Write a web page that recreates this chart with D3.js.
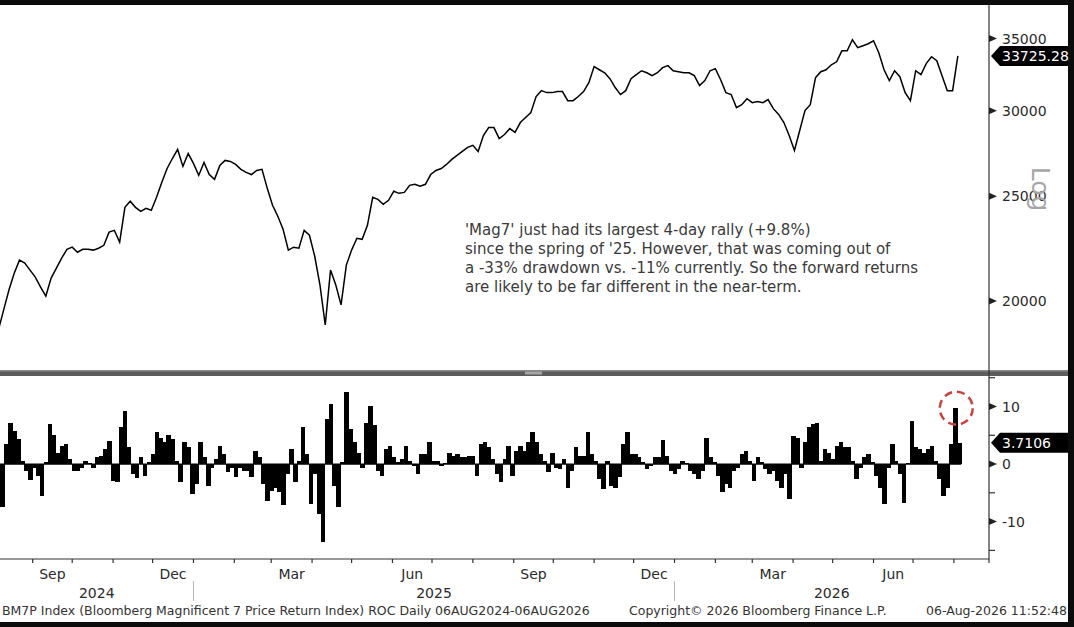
<!DOCTYPE html>
<html>
<head>
<meta charset="utf-8">
<script src="https://cdn.jsdelivr.net/npm/d3@7"></script>
<style>
html, body { margin: 0; padding: 0; background: #0b0b0b; }
svg { display: block; }
text { font-family: "DejaVu Sans", Verdana, sans-serif; }
</style>
</head>
<body>
<svg id="chart" width="1074" height="627"></svg>
<script>
// BM7P close, sampled every 4 days from the start date (last one is the latest close)
var closeStart = "2024-08-06";
var closeStepDays = 4;
var closeValues = [
  18800, 19620, 20470, 21220, 21820, 21680, 21360, 21040, 20600, 20210,
  21000, 21450, 21910, 22330, 22430, 22190, 22330, 22330, 22290, 22380,
  22520, 23160, 23250, 22670, 24420, 24740, 24420, 24210, 24370, 24270,
  24950, 25760, 26530, 27100, 27630, 26650, 27390, 26820, 26140, 26870,
  26190, 25920, 26700, 26990, 26930, 26760, 26480, 26310, 26190, 26420,
  26480, 25430, 24530, 23960, 23300, 22290, 22430, 22380, 23250, 23010,
  22000, 20690, 19000, 21360, 20690, 19830, 21590, 22290, 22860, 22810,
  23500, 24950, 24840, 24580, 24790, 25270, 25160, 25210, 25590, 25650,
  25540, 25650, 26190, 26420, 26530, 26760, 27050, 27280, 27510, 27750,
  27870, 27510, 28460, 28950, 28950, 28280, 28520, 28890, 28650, 29260,
  29580, 29890, 30930, 31320, 31190, 31190, 31260, 31260, 30660, 30660,
  30930, 31260, 31860, 32970, 32750, 32540, 32130, 31530, 31060, 31320,
  32130, 32410, 32680, 32540, 32340, 32540, 32900, 33040, 32680, 32610,
  32540, 32540, 32340, 31660, 32000, 32680, 32830, 32060, 31190, 31060,
  30210, 30400, 30790, 30530, 30600, 30530, 30730, 30140, 29770, 29260,
  28460, 27570, 28770, 30020, 30400, 32200, 32610, 32750, 33100, 33310,
  34100, 34100, 34910, 34330, 34470, 34620, 34840, 33960, 32750, 32000,
  32680, 32270, 31190, 30660, 32680, 32410, 33180, 33670, 33390, 32340,
  31320, 31320, 33725.28
];

// 4-day rate of change (%), sampled every 3 days
var rocStart = "2024-08-06";
var rocStepDays = 3;
var rocValues = [
  -7.5, -7.5, 3.5, 7.2, 5.8, 4.3, 0.6, -1.2, -2.8, -0.6,
  -2.0, -5.5, 0.3, 7.0, 5.0, 2.0, 3.2, 3.5, 0.9, -1.2,
  -1.2, -0.6, 0.6, 0.2, -0.6, 1.2, 1.4, 2.6, 4.0, -2.9,
  -3.2, 6.4, 9.3, 3.0, -1.7, -2.5, 1.2, -2.0, 0.3, 1.7,
  5.5, 4.6, 3.8, 5.0, 4.3, 0.5, -3.2, 3.8, 2.9, -5.2,
  -3.5, 3.8, 1.2, -3.8, -0.6, 0.9, 3.2, 1.7, -1.4, -0.6,
  -2.3, -0.6, -1.2, -1.2, -2.3, 2.3, 1.2, -3.5, -6.4, -4.6,
  -4.1, -4.9, -7.2, -1.7, 2.6, -3.2, 0.6, 6.4, 1.7, -7.0,
  -1.7, -8.7, -13.6, 7.8, 10.4, -3.8, -7.5, 0.3, 12.5, 6.1,
  3.8, 2.0, -0.6, 7.2, 10.1, 6.7, -1.2, -2.0, 2.6, 3.2,
  1.2, 0.3, 0.9, 3.2, 0.6, -0.3, -1.7, 1.7, 1.7, 3.8,
  0.6, 0.6, -0.3, 0.2, 2.0, 1.4, 1.7, 1.2, 1.2, 1.4,
  1.4, -2.0, 3.5, 3.8, 2.9, 0.9, -1.7, -3.2, 0.9, 3.2,
  -2.0, 2.3, 3.2, 2.3, 3.8, 5.5, 3.8, 1.7, 0.6, -1.4,
  2.0, -0.6, -0.9, 0.9, -4.1, -1.2, 2.9, 1.4, 1.4, 5.5,
  1.7, 0.6, -2.6, -4.3, 0.6, -3.8, -4.1, -2.3, 3.5, 5.5,
  1.7, 1.7, 1.2, 0.3, -0.9, -0.3, 1.2, 1.2, 4.1, 1.4,
  -1.2, -1.7, -0.9, 0.6, 0.2, -1.2, -1.7, -2.6, -1.2, 4.6,
  1.2, 0.3, -2.0, -4.9, -3.5, -4.1, -1.2, -0.6, 1.7, 2.3,
  0.6, -2.9, 1.2, 0.3, -0.9, -1.7, -1.2, -2.9, -4.1, -1.7,
  -6.1, 4.9, 4.6, -0.6, 3.8, 6.4, 7.0, 7.2, 0.6, 2.6,
  2.0, 0.9, 3.2, 3.8, 2.9, 2.9, 0.6, -2.6, -0.6, 1.2,
  1.7, 0.3, -2.0, -4.1, -7.0, -0.6, 3.5, 0.6, -1.7, -6.7,
  0.2, 7.5, 2.9, 2.6, 2.0, 2.6, 3.2, 0.6, -2.6, -5.5,
  -4.1, 3.5, 9.8, 3.7106
];

var priceTicks = [20000, 25000, 30000, 35000];
var rocTicks = [-10, 0, 10];
var rocMinorTicks = [-15, -5, 5, 15];
var monthNames = {8: "Sep", 11: "Dec", 2: "Mar", 5: "Jun"};
var years = [2024, 2025, 2026];
var noteLines = [
  "'Mag7' just had its largest 4-day rally (+9.8%)",
  "since the spring of '25. However, that was coming out of",
  "a -33% drawdown vs. -11% currently. So the forward returns",
  "are likely to be far different in the near-term."
];
var footerLeft = "BM7P Index (Bloomberg Magnificent 7 Price Return Index) ROC Daily 06AUG2024-06AUG2026";
var footerMid = "Copyright\u00a9 2026 Bloomberg Finance L.P.";
var footerRight = "06-Aug-2026 11:52:48";

var parse = d3.timeParse("%Y-%m-%d");
var closeData = closeValues.map(function(v, i){
  return {date: d3.timeDay.offset(parse(closeStart), i * closeStepDays), value: v};
});
var rocData = rocValues.map(function(v, i){
  return {date: d3.timeDay.offset(parse(rocStart), i * rocStepDays), value: v};
});

var plotRight = 989, topY = 5, sepY = 370, lowTop = 376, lowBottom = 559;

var svg = d3.select("#chart");

// frame
svg.append("rect").attr("width", 1074).attr("height", 627).attr("fill", "#0b0b0b");
svg.append("rect").attr("x", 0).attr("y", topY).attr("width", 1068).attr("height", 617).attr("fill", "#ffffff");

var x = d3.scaleTime()
  .domain([new Date(2024, 7, 6), new Date(2026, 7, 6)])
  .range([-1.6, 960.5]);
var yPrice = d3.scaleLog().domain([17260, 37600]).range([sepY, topY]);
var yRoc = d3.scaleLinear().domain([-16.5, 15.3]).range([lowBottom, lowTop]);

svg.append("clipPath").attr("id", "clipTop")
  .append("rect").attr("x", 0).attr("y", topY).attr("width", plotRight).attr("height", sepY - topY);
svg.append("clipPath").attr("id", "clipLow")
  .append("rect").attr("x", 0).attr("y", lowTop).attr("width", plotRight).attr("height", lowBottom - lowTop);

// price line
var line = d3.line()
  .x(function(d){ return x(d.date); })
  .y(function(d){ return yPrice(d.value); });
svg.append("path").datum(closeData)
  .attr("clip-path", "url(#clipTop)")
  .attr("d", line)
  .attr("fill", "none").attr("stroke", "#000").attr("stroke-width", 1.5)
  .attr("stroke-linejoin", "miter");

// ROC bars
var barW = x(d3.timeDay.offset(parse(rocStart), rocStepDays)) - x(parse(rocStart));
var gLow = svg.append("g").attr("clip-path", "url(#clipLow)");
gLow.selectAll("rect").data(rocData).enter().append("rect")
  .attr("x", function(d){ return x(d.date) - barW / 2; })
  .attr("width", barW + 0.6)
  .attr("y", function(d){ return yRoc(Math.max(0, d.value)); })
  .attr("height", function(d){ return Math.abs(yRoc(d.value) - yRoc(0)); })
  .attr("fill", "#000")
  .attr("shape-rendering", "crispEdges");
gLow.append("line")
  .attr("x1", 0).attr("x2", x(rocData[rocData.length - 1].date) + barW / 2)
  .attr("y1", yRoc(0)).attr("y2", yRoc(0))
  .attr("stroke", "#000").attr("stroke-width", 1.3);

// separator between panels
svg.append("rect").attr("x", 0).attr("y", sepY).attr("width", 1068).attr("height", lowTop - sepY).attr("fill", "#5c5c5c");
svg.append("rect").attr("x", 0).attr("y", sepY).attr("width", 1068).attr("height", 1.5).attr("fill", "#8a8a8a");
svg.append("rect").attr("x", 525).attr("y", sepY + 1.5).attr("width", 17).attr("height", 3).attr("fill", "#a5a5a5");

// axis lines
svg.append("line").attr("x1", plotRight).attr("x2", plotRight).attr("y1", topY).attr("y2", lowBottom + 4)
  .attr("stroke", "#333").attr("stroke-width", 1.2);
svg.append("line").attr("x1", 0).attr("x2", plotRight).attr("y1", lowBottom).attr("y2", lowBottom)
  .attr("stroke", "#333").attr("stroke-width", 1.2);

function pointer(y){
  return "M" + plotRight + "," + (y - 3.5) + "L" + (plotRight + 8) + "," + y + "L" + plotRight + "," + (y + 3.5) + "Z";
}

// price axis
priceTicks.forEach(function(t){
  var y = yPrice(t);
  svg.append("path").attr("d", pointer(y)).attr("fill", "#222");
  svg.append("text").attr("x", 1002).attr("y", y).attr("dy", "0.36em")
    .attr("font-size", 14).attr("fill", "#2a2a2a").text(t);
});
svg.append("text")
  .attr("transform", "translate(1041,189) rotate(90)")
  .attr("text-anchor", "middle").attr("dy", "0.36em")
  .attr("font-size", 25).attr("fill", "#a6a6a6").text("Log");

// roc axis
rocTicks.forEach(function(t){
  var y = yRoc(t);
  svg.append("path").attr("d", pointer(y)).attr("fill", "#222");
  svg.append("text").attr("x", 1002).attr("y", y).attr("dy", "0.36em")
    .attr("font-size", 14).attr("fill", "#2a2a2a").text(t);
});
rocMinorTicks.forEach(function(t){
  svg.append("line").attr("x1", plotRight).attr("x2", plotRight + 6)
    .attr("y1", yRoc(t)).attr("y2", yRoc(t))
    .attr("stroke", "#333").attr("stroke-width", 1.2);
});

// last value tags
function tag(y, label){
  svg.append("path")
    .attr("d", "M" + (plotRight + 2) + "," + y + "L" + (plotRight + 11) + "," + (y - 10) +
      "L1068," + (y - 10) + "L1068," + (y + 10) + "L" + (plotRight + 11) + "," + (y + 10) + "Z")
    .attr("fill", "#000");
  svg.append("text").attr("x", 1002).attr("y", y).attr("dy", "0.36em")
    .attr("font-size", 14).attr("fill", "#fff").text(label);
}
tag(yPrice(closeValues[closeValues.length - 1]), d3.format(".2f")(closeValues[closeValues.length - 1]));
tag(yRoc(rocValues[rocValues.length - 1]), d3.format(".4f")(rocValues[rocValues.length - 1]));

// x axis: month ticks, quarterly labels, years
var months = d3.timeMonth.range(new Date(2024, 8, 1), new Date(2026, 8, 2))
  .filter(function(m){ return x(m) > 0 && x(m) < plotRight - 4; });
svg.selectAll("line.mtick").data(months).enter().append("line")
  .attr("x1", function(m){ return x(m); }).attr("x2", function(m){ return x(m); })
  .attr("y1", lowBottom).attr("y2", lowBottom + 4)
  .attr("stroke", "#333").attr("stroke-width", 1.2);
months.filter(function(m){ return monthNames[m.getMonth()]; }).forEach(function(m){
  var cx = (x(m) + x(d3.timeMonth.offset(m, 1))) / 2;
  svg.append("text").attr("x", cx).attr("y", 579).attr("text-anchor", "middle")
    .attr("font-size", 14).attr("fill", "#2a2a2a").text(monthNames[m.getMonth()]);
});
years.forEach(function(yr){
  var a = Math.max(0, x(new Date(yr, 0, 1)));
  var b = Math.min(plotRight, x(new Date(yr + 1, 0, 1)));
  svg.append("text").attr("x", (a + b) / 2).attr("y", 597.5).attr("text-anchor", "middle")
    .attr("font-size", 14).attr("fill", "#2a2a2a").text(yr);
  if (x(new Date(yr, 0, 1)) > 0) {
    svg.append("line").attr("x1", a).attr("x2", a).attr("y1", 581).attr("y2", 601)
      .attr("stroke", "#b5b5b5").attr("stroke-width", 1);
  }
});

// annotation
noteLines.forEach(function(s, i){
  svg.append("text").attr("x", 465).attr("y", 235 + i * 19)
    .attr("font-size", 15).attr("fill", "#3a3a3a").text(s);
});

// highlight of the latest rally
svg.append("circle")
  .attr("cx", x(rocData[rocData.length - 2].date) + 1).attr("cy", yRoc(9.7)).attr("r", 16.5)
  .attr("fill", "none").attr("stroke", "#c8423f").attr("stroke-width", 2.5)
  .attr("stroke-dasharray", "8,5");

// footer
svg.append("text").attr("x", 2).attr("y", 615).attr("font-size", 12.5).attr("fill", "#333").text(footerLeft);
svg.append("text").attr("x", 629).attr("y", 615).attr("font-size", 12.5).attr("fill", "#333").text(footerMid);
svg.append("text").attr("x", 1067).attr("y", 615).attr("text-anchor", "end")
  .attr("font-size", 12.5).attr("fill", "#333").text(footerRight);
</script>
</body>
</html>
